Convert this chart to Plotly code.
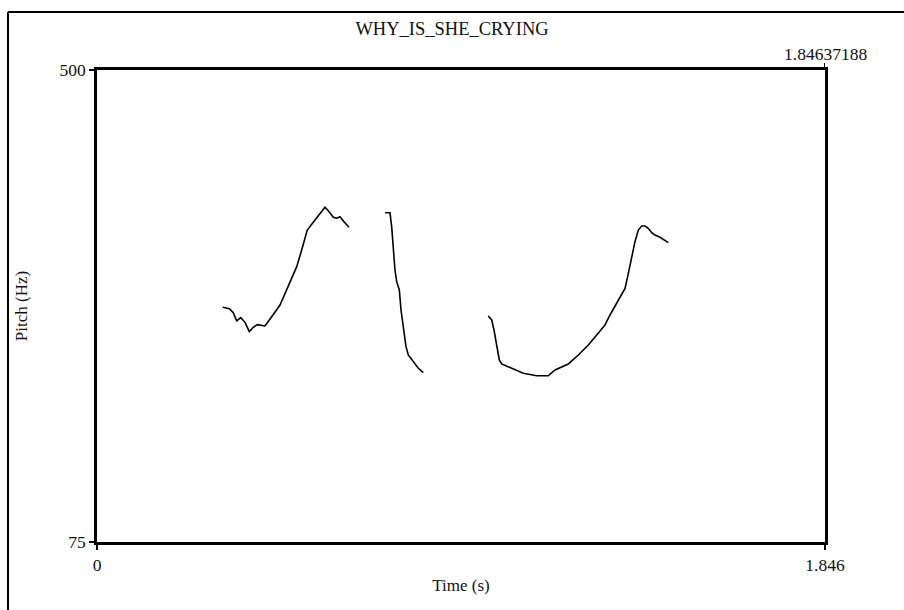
import plotly.graph_objects as go

# Pitch contour segments (time in s, pitch in Hz)
seg1_t = [0.3187, 0.3355, 0.3456, 0.3542, 0.3644, 0.3753, 0.3862, 0.3963, 0.4065, 0.4260,
          0.4430, 0.4640, 0.4825, 0.5064, 0.5190, 0.5332, 0.5528, 0.5781, 0.5865, 0.5992,
          0.6078, 0.6162, 0.6263, 0.6390]
seg1_hz = [286.3, 285.1, 281.5, 274.0, 277.0, 272.8, 264.4, 268.3, 270.7, 269.5,
           277.9, 288.4, 303.4, 322.9, 337.9, 355.9, 364.9, 376.4, 373.3, 367.4,
           366.5, 367.9, 363.4, 358.4]

seg2_t = [0.7303, 0.7430, 0.7472, 0.7514, 0.7556, 0.7599, 0.7666, 0.7709, 0.7767, 0.7835,
          0.7894, 0.8021, 0.8148, 0.8274]
seg2_hz = [371.5, 371.5, 358.9, 337.9, 319.9, 309.4, 301.9, 283.9, 268.9, 250.9,
           243.4, 237.4, 231.4, 227.5]

seg3_t = [0.9922, 1.0008, 1.0067, 1.0135, 1.0201, 1.0262, 1.0516, 1.0810, 1.1149, 1.1444,
          1.1614, 1.1951, 1.2205, 1.2458, 1.2671, 1.2881, 1.3008, 1.3178, 1.3389, 1.3473,
          1.3558, 1.3642, 1.3726, 1.3812, 1.3896, 1.3979, 1.4066, 1.4149, 1.4276, 1.4403,
          1.4487]
seg3_hz = [278.5, 274.9, 265.9, 250.9, 238.9, 235.3, 231.4, 226.9, 224.7, 224.7,
           229.9, 235.3, 243.4, 252.4, 261.4, 270.4, 279.4, 289.9, 303.4, 316.9,
           331.9, 345.4, 355.9, 359.5, 359.5, 357.5, 353.5, 351.4, 349.4, 346.9,
           344.5]

title = "WHY_IS_SHE_CRYING"
t_min, t_max = 0.0, 1.846
hz_min, hz_max = 75, 500
x_ticks = [0.0, 1.846]
x_ticktext = ["0", "1.846"]
y_ticks = [75, 500]
duration_label = "1.84637188"

FONT = "Liberation Serif"
INK = "#111"

fig = go.Figure()
for t, hz in [(seg1_t, seg1_hz), (seg2_t, seg2_hz), (seg3_t, seg3_hz)]:
    fig.add_trace(go.Scatter(x=t, y=hz, mode="lines",
                             line=dict(color="black", width=1.6),
                             showlegend=False, hoverinfo="skip"))

W, H = 904, 610
L, R, T, B = 97, 79, 70, 68
pw = W - L - R
ph = H - T - B

def px_x(px):
    return (px - L) / pw

def px_y(py):
    return (H - B - py) / ph

fig.update_layout(
    width=W, height=H,
    margin=dict(l=L, r=R, t=T, b=B),
    paper_bgcolor="white", plot_bgcolor="white",
    font=dict(family=FONT, size=17.5, color=INK),
    title=dict(text=title, x=0.5, xanchor="center", y=1 - 29 / H, yanchor="middle",
               font=dict(family=FONT, size=18.5, color=INK)),
    xaxis=dict(range=[t_min, t_max], tickvals=x_ticks, ticktext=x_ticktext,
               showgrid=False, zeroline=False, showline=True, mirror=True,
               linecolor="black", linewidth=2.5, ticks="outside", ticklen=5,
               tickwidth=1.5, tickcolor="black",
               title=dict(text="Time (s)", standoff=6, font=dict(family=FONT, size=17))),
    yaxis=dict(range=[hz_min, hz_max], tickvals=y_ticks,
               showgrid=False, zeroline=False, showline=True, mirror=True,
               linecolor="black", linewidth=2.5, ticks="outside", ticklen=5,
               tickwidth=1.5, tickcolor="black",
               title=dict(text="Pitch (Hz)", standoff=28, font=dict(family=FONT, size=17))),
)

# duration label and its tick above the top-right corner
fig.add_annotation(x=t_max, y=1, xref="x", yref="paper", text=duration_label,
                   showarrow=False, yshift=16, yanchor="middle", xanchor="center",
                   font=dict(family=FONT, size=17.5, color=INK))
fig.add_shape(type="line", xref="x", yref="paper", x0=t_max, x1=t_max,
              y0=1, y1=px_y(63), line=dict(color="black", width=2))

# outer window frame
fig.add_shape(type="line", xref="paper", yref="paper", x0=px_x(8), x1=px_x(910),
              y0=px_y(12), y1=px_y(12), line=dict(color="black", width=2))
fig.add_shape(type="line", xref="paper", yref="paper", x0=px_x(8), x1=px_x(8),
              y0=px_y(12), y1=px_y(620), line=dict(color="black", width=2))

fig.write_html("out.html")
